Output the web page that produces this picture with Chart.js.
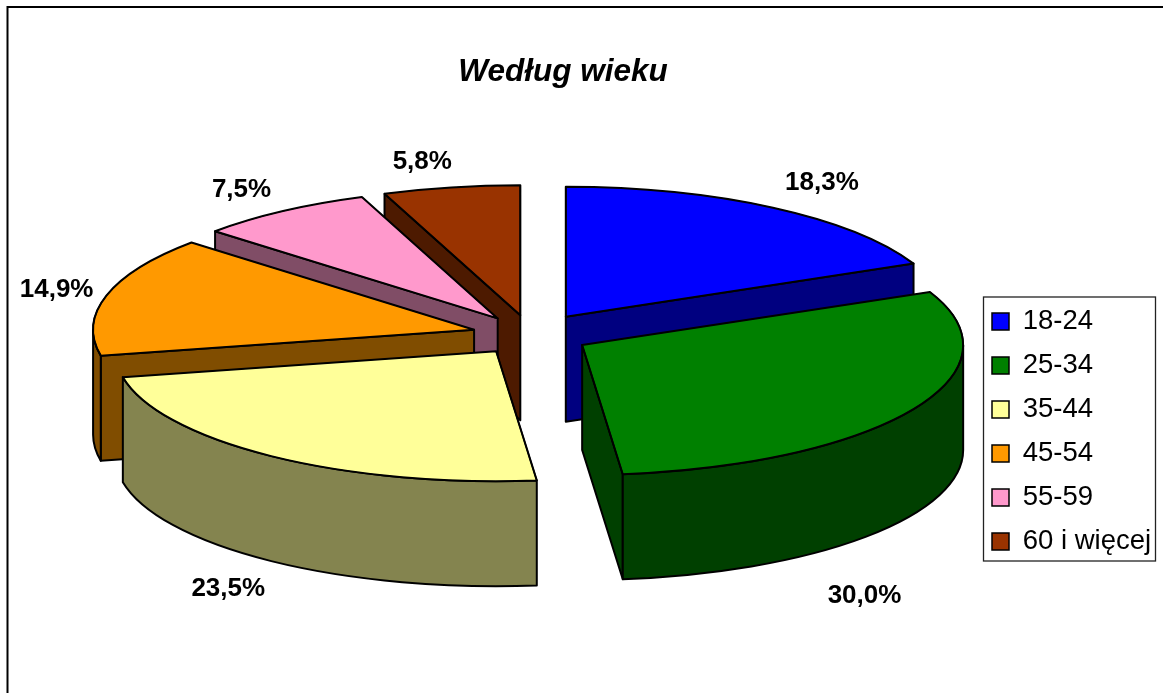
<!DOCTYPE html>
<html>
<head>
<meta charset="utf-8">
<script src="https://cdn.jsdelivr.net/npm/chart.js@4/dist/chart.umd.min.js"></script>
<style>
html,body{margin:0;padding:0;background:#fff;overflow:hidden}
canvas{display:block}
</style>
</head>
<body>
<canvas id="c" width="1163" height="693"></canvas>
<script>
const ageGroups = ['18-24','25-34','35-44','45-54','55-59','60 i więcej'];
const sharePercent = [18.3, 30.0, 23.5, 14.9, 7.5, 5.8];
const topColors = ['#0000FF','#008000','#FFFF99','#FF9900','#FF99CC','#993300'];
const sideColors = ['#000080','#004000','#84844F','#804D00','#804D66','#4D1A00'];
const paintOrder = [5,4,0,3,2,1];
const labelShifts = [[49,-25],[-48,186],[-43,133],[-50,-6],[-41,-21],[-29,-26]];
const explodeBy = [64,59,59,59,59,59];

const pieCenter = {x:531, y:335};
const pieRadius = 381;
const squash = 0.341;
const depth = 105;
const edge = 2;
const legendBox = {left:983.5, top:297, right:1155.5, bottom:561};
const titleCenter = {x:563, y:72};
const FAMILY = '"Liberation Sans", Arial, sans-serif';

function sliceCenter(arc, i){
  const mid = (arc.startAngle + arc.endAngle)/2;
  return {x: arc.x + Math.cos(mid)*explodeBy[i], y: arc.y + Math.sin(mid)*explodeBy[i]*squash, mid};
}

const pie3d = {
  id:'pie3d',
  afterLayout(chart){
    const a = chart.chartArea;
    a.left = pieCenter.x - pieRadius; a.right = pieCenter.x + pieRadius;
    a.top = pieCenter.y - pieRadius; a.bottom = pieCenter.y + pieRadius;
    a.width = a.right - a.left; a.height = a.bottom - a.top;
    const t = chart.titleBlock;
    const w = t.right - t.left, h = t.bottom - t.top;
    t.left = titleCenter.x - w/2; t.right = titleCenter.x + w/2;
    t.top = titleCenter.y - h/2; t.bottom = titleCenter.y + h/2;
    const l = chart.legend, pad = chart.options.plugins.legend.labels.padding;
    const lw = l.right - l.left;
    l.left = legendBox.left + 8.5 - pad; l.right = l.left + lw;
    l.top = legendBox.top - 37.5; l.bottom = legendBox.bottom + 42.5;
  },
  beforeDraw(chart){
    const ctx = chart.ctx;
    ctx.save();
    ctx.strokeStyle = '#000'; ctx.lineWidth = 2;
    ctx.strokeRect(7.5, 7, chart.width + 20, chart.height + 20);
    ctx.restore();
  },
  beforeDatasetsDraw(chart){
    const ctx = chart.ctx;
    const meta = chart.getDatasetMeta(0);
    paintOrder.forEach(i => {
      const arc = meta.data[i];
      const s = arc.startAngle, e = arc.endAngle;
      const R = arc.outerRadius, rb = R * squash;
      const {x: cx, y: cy} = sliceCenter(arc, i);
      ctx.save();
      ctx.lineWidth = edge; ctx.strokeStyle = '#000'; ctx.lineJoin = 'round';
      ctx.fillStyle = sideColors[i];
      // radial cut faces that turn toward the viewer
      [[s, Math.cos(s) < 0], [e, Math.cos(e) > 0]].forEach(([t, visible]) => {
        if (!visible) return;
        const px = cx + R*Math.cos(t), py = cy + rb*Math.sin(t);
        ctx.beginPath();
        ctx.moveTo(cx, cy); ctx.lineTo(px, py);
        ctx.lineTo(px, py + depth); ctx.lineTo(cx, cy + depth);
        ctx.closePath(); ctx.fill(); ctx.stroke();
      });
      const w0 = Math.max(s, 0), w1 = Math.min(e, Math.PI);
      if (w1 > w0) {
        ctx.beginPath();
        ctx.ellipse(cx, cy, R, rb, 0, w0, w1);
        ctx.ellipse(cx, cy + depth, R, rb, 0, w1, w0, true);
        ctx.closePath(); ctx.fill(); ctx.stroke();
      }
      ctx.save();
      ctx.translate(cx - arc.x, cy);
      ctx.scale(1, squash);
      ctx.translate(0, -arc.y);
      arc.draw(ctx);
      ctx.restore();
      ctx.beginPath();
      ctx.moveTo(cx, cy);
      ctx.ellipse(cx, cy, R, rb, 0, s, e);
      ctx.closePath(); ctx.stroke();
      ctx.restore();
    });
    return false;
  },
  afterDraw(chart){
    const ctx = chart.ctx;
    const meta = chart.getDatasetMeta(0);
    ctx.save();
    ctx.strokeStyle = '#222'; ctx.lineWidth = 1.3;
    ctx.strokeRect(legendBox.left, legendBox.top, legendBox.right - legendBox.left, legendBox.bottom - legendBox.top);
    ctx.fillStyle = '#000';
    ctx.font = 'bold 26px ' + FAMILY;
    ctx.textAlign = 'center'; ctx.textBaseline = 'middle';
    meta.data.forEach((arc, i) => {
      const c = sliceCenter(arc, i);
      const x = c.x + arc.outerRadius*Math.cos(c.mid) + labelShifts[i][0];
      const y = c.y + arc.outerRadius*squash*Math.sin(c.mid) + labelShifts[i][1];
      ctx.fillText(sharePercent[i].toFixed(1).replace('.', ',') + '%', x, y);
    });
    ctx.restore();
  }
};

new Chart(document.getElementById('c'), {
  type:'pie',
  data:{
    labels: ageGroups,
    datasets:[{data: sharePercent, backgroundColor: topColors, borderColor:'#000', borderWidth:1.5, offset:0, hoverOffset:0, clip:false}]
  },
  options:{
    responsive:false,
    animation:false,
    events:[],
    radius: pieRadius,
    plugins:{
      tooltip:{enabled:false},
      title:{display:true, text:'Według wieku', color:'#000',
        font:{family:FAMILY, size:31.5, weight:'bold', style:'italic'}, padding:0},
      legend:{display:true, position:'right', align:'center',
        labels:{color:'#000', font:{family:FAMILY, size:27.5}, boxWidth:17, boxHeight:17, padding:16.5}}
    }
  },
  plugins:[pie3d]
});
</script>
</body>
</html>
